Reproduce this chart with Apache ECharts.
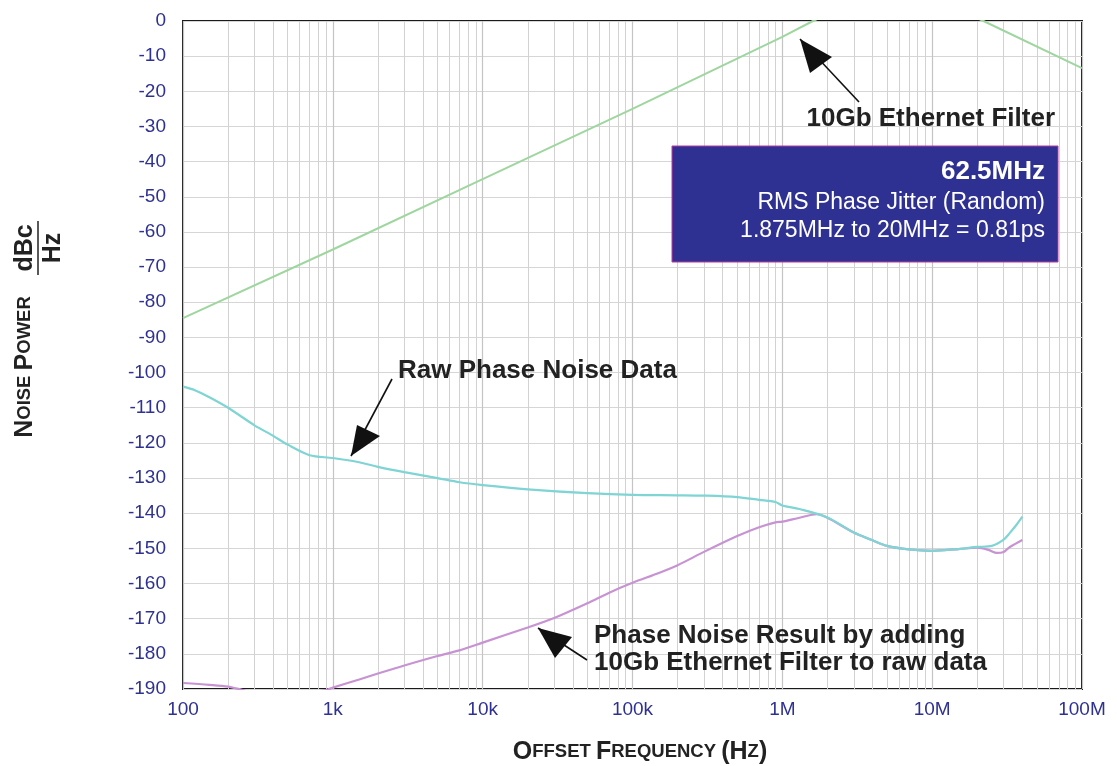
<!DOCTYPE html>
<html>
<head>
<meta charset="utf-8">
<script src="https://cdn.jsdelivr.net/npm/echarts@6/dist/echarts.min.js"></script>
<style>html,body{margin:0;padding:0;background:#fff}#c{width:1117px;height:766px}</style>
</head>
<body>
<div id="c"></div>
<script>
// ---- data ----
const xTicks = [100, 1e3, 1e4, 1e5, 1e6, 1e7, 1e8];
const xTickLabels = ['100', '1k', '10k', '100k', '1M', '10M', '100M'];
const minorFreqs = [200,300,400,500,600,700,800,900,2e3,3e3,4e3,5e3,6e3,7e3,8e3,9e3,2e4,3e4,4e4,5e4,6e4,7e4,8e4,9e4,2e5,3e5,4e5,5e5,6e5,7e5,8e5,9e5,2e6,3e6,4e6,5e6,6e6,7e6,8e6,9e6,2e7,3e7,4e7,5e7,6e7,7e7,8e7,9e7];

const filterFreq = [100, 1e3, 1e4, 1e5, 1e6, 1.6e6, 6e6, 2.2e7, 1e8];
const filterDb   = [-84.5, -65, -45, -25, -4.5, 0, 11, 0, -13.4];

const rawFreq = [100,120,150,200,300,400,500,700,1e3,1.5e3,2e3,3e3,5e3,7e3,1e4,2e4,5e4,1e5,2e5,3e5,5e5,7e5,9e5,1e6,1.3e6,2e6,3e6,4e6,5e6,7e6,1e7,1.5e7,2e7,2.5e7,3e7,3.3e7,3.7e7,4e7];
const rawDb   = [-104,-105,-107,-110,-115,-118,-120.5,-123.5,-124.3,-125.5,-126.8,-128.3,-130,-131.2,-132,-133.2,-134.3,-134.8,-134.9,-135,-135.4,-136.2,-136.8,-137.8,-138.8,-141.2,-145.5,-147.7,-149.3,-150.3,-150.7,-150.2,-149.6,-149.3,-147.5,-145.6,-143,-141];

const resFreq = [100,150,200,250,300,500,700,900,1e3,1.5e3,2e3,3e3,5e3,7e3,1e4,2e4,3e4,5e4,7e4,1e5,1.5e5,2e5,3e5,5e5,7e5,9e5,1e6,1.3e6,1.7e6,2e6,3e6,4e6,5e6,7e6,1e7,1.5e7,2e7,2.4e7,2.7e7,3e7,3.3e7,4e7];
const resDb   = [-188.3,-188.8,-189.3,-190.3,-191,-191.5,-191,-190.3,-189.6,-187.3,-185.6,-183.3,-180.6,-179,-176.8,-172.5,-169.8,-165.6,-162.6,-159.8,-157,-154.8,-151,-146.5,-144,-142.6,-142.4,-141.3,-140.3,-141.3,-145.5,-147.7,-149.3,-150.3,-150.7,-150.2,-149.8,-150.5,-151.3,-151,-149.6,-147.6];

const yMin = -190, yMax = 0, yStep = 10;

// ---- build ----
const pairs = (xs, ys) => xs.map((x, i) => [x, ys[i]]);
const chart = echarts.init(document.getElementById('c'), null, {renderer: 'canvas'});
const FONT = '"Liberation Sans", Arial, Helvetica, sans-serif';
const tickColor = '#2e3192';

function arrow(tail, tip, w1, w2) {
  return [
    {type: 'line', z: 100, shape: {x1: tail[0], y1: tail[1], x2: tip[0], y2: tip[1]}, style: {stroke: '#111', lineWidth: 1.6}},
    {type: 'polygon', z: 101, shape: {points: [tip, w1, w2]}, style: {fill: '#111'}}
  ];
}

const capRich = {
  b: {fontFamily: FONT, fontWeight: 'bold', fontSize: 25, fill: '#222'},
  s: {fontFamily: FONT, fontWeight: 'bold', fontSize: 18.5, fill: '#222'}
};
const annBold = {fontFamily: FONT, fontWeight: 'bold', fontSize: 26, fill: '#222'};

const option = {
  animation: false,
  backgroundColor: '#fff',
  grid: {left: 183, right: 35, top: 21, bottom: 77, show: true, borderColor: '#1a1a1a', borderWidth: 2, backgroundColor: 'transparent'},
  xAxis: {
    type: 'log', logBase: 10, min: 100, max: 1e8,
    axisLine: {show: false}, axisTick: {show: false},
    axisLabel: {
      color: tickColor, fontFamily: FONT, fontSize: 19, margin: 11,
      formatter: v => { const i = xTicks.findIndex(t => Math.abs(Math.log10(t) - Math.log10(v)) < 1e-6); return i >= 0 ? xTickLabels[i] : ''; }
    },
    splitLine: {show: true, lineStyle: {color: '#c4c4c4', width: 1.2}}
  },
  yAxis: {
    type: 'value', min: yMin, max: yMax, interval: yStep,
    axisLine: {show: false}, axisTick: {show: false},
    axisLabel: {color: tickColor, fontFamily: FONT, fontSize: 19, margin: 17},
    splitLine: {show: true, lineStyle: {color: '#d6d6d6', width: 1.2}}
  },
  series: [
    {
      type: 'line', data: [], silent: true,
      markLine: {
        silent: true, symbol: 'none', label: {show: false},
        lineStyle: {color: '#d2d2d2', width: 1, type: 'solid'},
        data: minorFreqs.map(f => ({xAxis: f}))
      }
    },
    {name: 'filter', type: 'line', data: pairs(filterFreq, filterDb), showSymbol: false, clip: true,
     lineStyle: {color: '#9fd69f', width: 2}, z: 5},
    {name: 'raw', type: 'line', data: pairs(rawFreq, rawDb), showSymbol: false, clip: true, smooth: 0.3,
     lineStyle: {color: '#7fd4d4', width: 2.2}, z: 6},
    {name: 'result', type: 'line', data: pairs(resFreq, resDb), showSymbol: false, clip: true, smooth: 0.3,
     lineStyle: {color: '#c793d2', width: 2.2}, z: 5}
  ],
  graphic: [
    // y axis title
    {type: 'text', z: 100, x: 25, y: 367, rotation: Math.PI / 2,
     style: {text: '{b|N}{s|OISE }{b|P}{s|OWER}', rich: capRich, align: 'center', verticalAlign: 'middle'}},
    {type: 'group', z: 100, x: 38, y: 248, rotation: Math.PI / 2, children: [
      {type: 'text', x: 0, y: 0, style: {text: 'dBc', font: 'bold 25px ' + FONT, fill: '#222', align: 'center', verticalAlign: 'bottom'}},
      {type: 'line', shape: {x1: -27, y1: 0, x2: 27, y2: 0}, style: {stroke: '#222', lineWidth: 1.5}},
      {type: 'text', x: 0, y: 3, style: {text: 'Hz', font: 'bold 25px ' + FONT, fill: '#222', align: 'center', verticalAlign: 'top'}}
    ]},
    // x axis title
    {type: 'text', z: 100, x: 640, y: 752,
     style: {text: '{b|O}{s|FFSET }{b|F}{s|REQUENCY }{b|(H}{s|Z}{b|)}', rich: capRich, align: 'center', verticalAlign: 'middle'}},
    // info box
    {type: 'rect', z: 90, shape: {x: 672, y: 146, width: 386, height: 116}, style: {fill: '#2e3192', stroke: '#c0399a', lineWidth: 1}},
    {type: 'text', z: 91, x: 1045, y: 172, style: {text: '62.5MHz', font: 'bold 26px ' + FONT, fill: '#fff', align: 'right', verticalAlign: 'middle'}},
    {type: 'text', z: 91, x: 1045, y: 203, style: {text: 'RMS Phase Jitter (Random)', font: '23px ' + FONT, fill: '#fff', align: 'right', verticalAlign: 'middle'}},
    {type: 'text', z: 91, x: 1045, y: 231, style: {text: '1.875MHz to 20MHz = 0.81ps', font: '23px ' + FONT, fill: '#fff', align: 'right', verticalAlign: 'middle'}},
    // annotations
    {type: 'text', z: 100, x: 1055, y: 119, style: Object.assign({text: '10Gb Ethernet Filter', align: 'right', verticalAlign: 'middle'}, annBold)},
    ...arrow([859, 102], [800, 39], [810, 73], [832, 57]),
    {type: 'text', z: 100, x: 398, y: 371, style: Object.assign({text: 'Raw Phase Noise Data', align: 'left', verticalAlign: 'middle'}, annBold)},
    ...arrow([392, 379], [351, 456], [357, 425], [380, 436]),
    {type: 'text', z: 100, x: 594, y: 636, style: Object.assign({text: 'Phase Noise Result by adding', align: 'left', verticalAlign: 'middle'}, annBold)},
    {type: 'text', z: 100, x: 594, y: 663, style: Object.assign({text: '10Gb Ethernet Filter to raw data', align: 'left', verticalAlign: 'middle'}, annBold)},
    ...arrow([587, 660], [538, 628], [572, 637], [555, 658])
  ]
};
chart.setOption(option);
</script>
</body>
</html>
